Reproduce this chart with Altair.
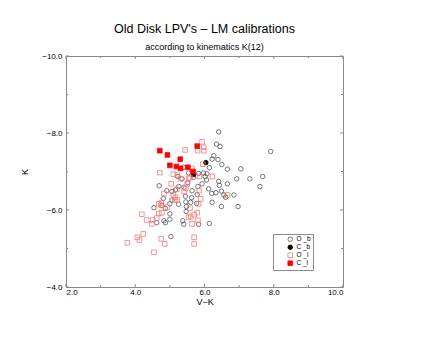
import altair as alt
import pandas as pd

# ---- data ----
ob_x = [6.41, 6.35, 6.45, 7.91, 6.27, 6.22, 6.39, 6.50, 6.14, 6.66, 7.05, 5.97, 6.07, 5.83, 5.54,
        5.39, 6.93, 7.31, 7.68, 7.60, 6.66, 6.41, 6.43, 6.02, 6.06, 5.93, 5.81, 5.52, 5.35, 5.26,
        4.69, 4.91, 4.81, 5.06, 5.16, 5.41, 5.64, 5.45, 5.63, 5.79, 6.12, 6.21, 6.33, 6.49, 6.56,
        6.61, 6.85, 6.22, 6.49, 6.97, 5.06, 5.00, 5.25, 5.46, 5.60, 5.48, 5.77, 4.54, 4.77, 4.87,
        5.47, 5.00, 4.62, 4.83, 4.87, 5.00, 5.37, 5.40, 5.83, 6.14, 5.03, 5.23, 5.68]
ob_y = [-8.03, -7.71, -7.65, -7.52, -7.41, -7.32, -7.31, -7.18, -7.10, -7.06, -7.07, -6.96, -6.94, -6.95, -6.96,
        -7.11, -6.81, -6.81, -6.87, -6.61, -6.68, -6.74, -6.64, -6.87, -6.78, -6.68, -6.61, -6.71, -6.81, -6.61,
        -6.63, -6.50, -6.30, -6.48, -6.52, -6.59, -6.50, -6.36, -6.32, -6.40, -6.55, -6.43, -6.45, -6.49, -6.39,
        -6.33, -6.39, -6.20, -6.09, -6.09, -6.26, -6.16, -6.15, -6.21, -6.20, -6.09, -6.17, -6.06, -6.12, -6.04,
        -5.96, -5.90, -5.67, -5.72, -5.67, -5.76, -5.72, -5.63, -5.63, -5.65, -5.31, -6.87, -6.85]

cb_x = [6.04, 5.68]
cb_y = [-7.23, -6.92]

ol_x = [5.93, 5.98, 5.98, 5.80, 5.44, 5.95, 4.71, 5.10, 5.21, 5.64, 5.54, 5.31, 5.50, 5.46, 6.23,
        5.85, 5.04, 5.20, 5.85, 5.41, 4.83, 5.10, 5.16, 5.14, 5.21, 4.68, 4.75, 4.75, 4.93, 5.58,
        5.83, 5.89, 6.66, 4.68, 4.77, 4.19, 4.62, 4.33, 4.48, 4.50, 5.70, 5.79, 5.60, 5.54, 5.64,
        5.81, 5.70, 4.23, 4.06, 4.12, 4.75, 4.85, 3.77, 4.54, 5.70, 5.58]
ol_y = [-7.77, -7.63, -7.54, -7.54, -7.56, -7.19, -6.97, -6.93, -6.91, -7.08, -6.82, -6.81, -6.68, -6.56, -6.87,
        -6.87, -6.68, -6.54, -6.50, -6.48, -6.43, -6.39, -6.33, -6.26, -6.26, -6.16, -6.19, -6.12, -6.07, -6.05,
        -6.16, -6.29, -6.39, -5.91, -5.93, -5.89, -5.79, -5.74, -5.64, -5.74, -5.88, -5.93, -5.83, -5.81, -5.64,
        -5.73, -5.29, -5.38, -5.29, -5.22, -5.25, -5.12, -5.15, -4.90, -5.12, -6.84]

cl_x = [4.71, 4.93, 5.30, 5.00, 5.19, 5.31, 5.52, 5.67, 5.79]
cl_y = [-7.54, -7.43, -7.32, -7.16, -7.13, -7.08, -7.11, -7.00, -7.66]

categories = ["O _b", "C _b", "O _l", "C _l"]
shapes = ["circle", "circle", "square", "square"]
strokes = ["#555555", "#000000", "#f27b7b", "#ff0000"]
fills = ["transparent", "#000000", "transparent", "#ff0000"]
sizes = [20, 22, 30, 30]

x_major = [2, 4, 6, 8, 10]
x_minor = [3, 5, 7, 9]
y_major = [-10, -8, -6, -4]
y_minor = [-9, -7, -5]

rows = []
for cat, xs, ys in zip(categories, [ob_x, cb_x, ol_x, cl_x], [ob_y, cb_y, ol_y, cl_y]):
    for a, b in zip(xs, ys):
        rows.append({"cat": cat, "vk": a, "k": b})
df = pd.DataFrame(rows)

W, H = 277, 231
FONT = "Liberation Sans"
FRAME = "#8a8a8a"

xscale = alt.Scale(domain=[2, 10], nice=False, zero=False)
yscale = alt.Scale(domain=[-10, -4], reverse=True, nice=False, zero=False)

leg = alt.Legend(title=None, orient="none", legendX=207, legendY=178,
                 labelFontSize=6.5, labelFont=FONT, padding=2, rowPadding=-3,
                 symbolStrokeWidth=0.8, fillColor="white", strokeColor=FRAME,
                 labelOffset=3, symbolOffset=12)

points = alt.Chart(df).mark_point(strokeWidth=0.8, opacity=1).encode(
    x=alt.X("vk:Q", scale=xscale,
            axis=alt.Axis(title="V−K", values=x_major, format=".1f", ticks=False,
                          labelFontSize=8, titleFontSize=9, titleFontWeight="normal",
                          labelPadding=1, titlePadding=1, domainColor=FRAME, grid=False)),
    y=alt.Y("k:Q", scale=yscale,
            axis=alt.Axis(title="K", values=y_major, format=".1f", ticks=False,
                          labelFontSize=8, titleFontSize=9, titleFontWeight="normal",
                          labelPadding=4, titlePadding=12, domainColor=FRAME, grid=False)),
    shape=alt.Shape("cat:N", scale=alt.Scale(domain=categories, range=shapes), legend=leg),
    color=alt.Color("cat:N", scale=alt.Scale(domain=categories, range=strokes), legend=leg),
    fill=alt.Fill("cat:N", scale=alt.Scale(domain=categories, range=fills), legend=leg),
    size=alt.Size("cat:N", scale=alt.Scale(domain=categories, range=sizes), legend=leg),
)

def xticks(vals, y0, y1):
    return alt.Chart(pd.DataFrame({"v": vals})).mark_rule(color=FRAME, strokeWidth=1).encode(
        x=alt.X("v:Q", scale=xscale), y=alt.value(y0), y2=alt.value(y1))

def yticks(vals, x0, x1):
    return alt.Chart(pd.DataFrame({"v": vals})).mark_rule(color=FRAME, strokeWidth=1).encode(
        y=alt.Y("v:Q", scale=yscale), x=alt.value(x0), x2=alt.value(x1))

ticks = [
    xticks(x_major, H, H - 3), xticks(x_minor, H, H - 2),
    xticks(x_major, 0, 3), xticks(x_minor, 0, 2),
    yticks(y_major, 0, 3), yticks(y_minor, 0, 2),
    yticks(y_major, W, W - 3), yticks(y_minor, W, W - 2),
]

chart = alt.layer(points, *ticks).properties(
    width=W, height=H,
    title=alt.Title("Old Disk LPV's – LM calibrations",
                    subtitle="according to kinematics K(12)",
                    fontSize=12.5, subtitleFontSize=9, font=FONT, subtitleFont=FONT,
                    fontWeight="normal", color="black", subtitleColor="black",
                    anchor="middle", subtitlePadding=8, offset=0),
    autosize="none",
    padding={"left": 58, "top": 48, "right": 80, "bottom": 40},
).configure_view(stroke=FRAME, strokeWidth=1).configure_axis(
    labelFont=FONT, titleFont=FONT, labelColor="black", titleColor="black"
)

chart.save("out.html", embed_options={"renderer": "svg", "actions": False})
